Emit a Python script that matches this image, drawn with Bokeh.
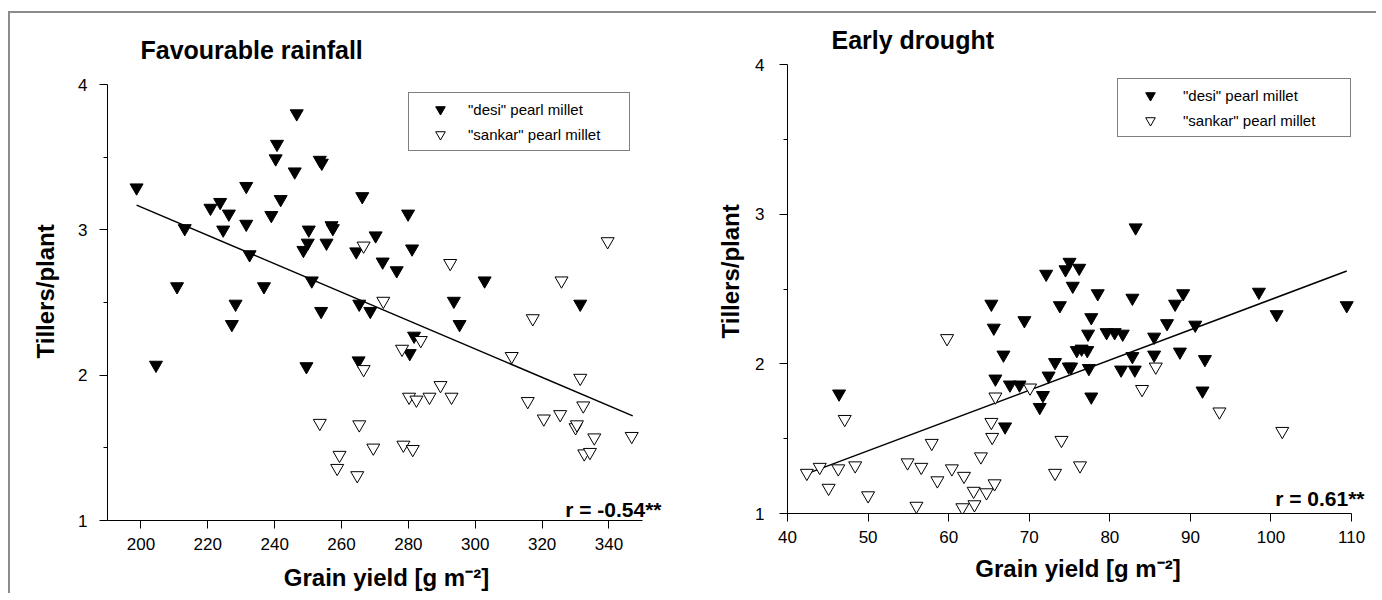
from bokeh.plotting import figure
from bokeh.models import Range1d, FixedTicker, Legend, LegendItem, Label, Title
from bokeh.layouts import row
from bokeh.embed import file_html
from bokeh.resources import INLINE

# ---------------- data: Favourable rainfall ----------------
fav_desi_x = [198.7, 204.5, 210.8, 213.1, 220.8, 223.7, 224.6, 226.3, 227.2, 228.3,
              231.5, 231.5, 232.5, 236.8, 239.0, 240.3, 240.7, 241.8, 246.0, 246.6,
              248.6, 249.9, 250.2, 249.5, 251.1, 253.5, 254.1, 253.9, 255.5, 257.0,
              257.4, 264.4, 265.3, 265.1, 266.2, 268.6, 270.2, 272.3, 276.5, 279.9,
              280.4, 281.1, 281.7, 293.6, 295.3, 302.8, 331.4]
fav_desi_y = [3.29, 2.07, 2.61, 3.01, 3.15, 3.19, 3.00, 3.11, 2.35, 2.49,
              3.30, 3.04, 2.83, 2.61, 3.10, 3.49, 3.59, 3.21, 3.40, 3.80,
              2.86, 2.91, 3.00, 2.06, 2.65, 3.48, 3.46, 2.44, 2.91, 3.03,
              3.01, 2.85, 2.49, 2.10, 3.23, 2.44, 2.96, 2.78, 2.72, 3.11,
              2.15, 2.87, 2.27, 2.51, 2.35, 2.65, 2.49]
fav_sankar_x = [253.5, 258.7, 259.4, 264.7, 265.3, 266.6, 266.6, 269.5, 272.5, 278.1,
                278.5, 280.2, 281.3, 282.4, 283.7, 286.3, 289.6, 292.5, 292.9, 310.9,
                315.7, 317.2, 320.5, 325.4, 325.8, 330.0, 330.4, 331.4, 332.3, 332.6,
                334.3, 335.6, 339.6, 346.8]
fav_sankar_y = [1.67, 1.36, 1.45, 1.31, 1.66, 2.89, 2.04, 1.50, 2.51, 2.18,
                1.52, 1.85, 1.49, 1.83, 2.24, 1.85, 1.93, 2.77, 1.85, 2.13,
                1.82, 2.39, 1.70, 1.73, 2.65, 1.64, 1.66, 1.98, 1.79, 1.46,
                1.47, 1.57, 2.92, 1.58]
fav_fit_x = [198.7, 347.1]
fav_fit_y = [3.17, 1.72]
fav_r = "r = -0.54**"
fav_xticks = [200, 220, 240, 260, 280, 300, 320, 340]
fav_xaxis = (190, 350)

# ---------------- data: Early drought ----------------
dr_desi_x = [46.4, 65.3, 65.6, 65.8, 66.8, 67.0, 67.6, 68.8, 69.4, 72.1,
             71.7, 71.3, 72.4, 73.2, 73.8, 74.5, 75.0, 75.4, 76.2, 74.9,
             75.2, 75.9, 76.5, 77.2, 77.4, 77.7, 77.7, 77.3, 78.5, 79.6,
             80.6, 81.6, 81.4, 82.8, 82.8, 83.1, 83.2, 85.5, 85.5, 87.1,
             88.1, 89.1, 88.7, 90.6, 91.8, 91.5, 98.5, 100.7, 109.4]
dr_desi_y = [1.80, 2.40, 2.24, 1.90, 2.06, 1.58, 1.86, 1.86, 2.29, 2.60,
             1.79, 1.71, 1.92, 2.01, 2.39, 2.63, 2.68, 2.52, 2.64, 1.98,
             1.98, 2.09, 2.10, 2.09, 1.97, 1.78, 2.31, 2.20, 2.47, 2.21,
             2.21, 2.20, 1.96, 2.44, 2.05, 1.96, 2.91, 2.18, 2.06, 2.27,
             2.40, 2.47, 2.08, 2.26, 2.03, 1.82, 2.48, 2.33, 2.39]
dr_sankar_x = [42.4, 44.0, 45.1, 46.3, 47.1, 48.4, 50.0, 54.9, 56.0, 56.6,
               57.9, 58.6, 59.8, 60.4, 61.7, 61.9, 63.1, 63.2, 64.0, 64.7,
               65.3, 65.4, 65.7, 65.8, 70.1, 73.2, 74.0, 76.3, 84.0, 85.7,
               93.6, 101.4]
dr_sankar_y = [1.27, 1.31, 1.17, 1.30, 1.63, 1.32, 1.12, 1.34, 1.05, 1.31,
               1.47, 1.22, 2.17, 1.30, 1.04, 1.25, 1.15, 1.06, 1.38, 1.14,
               1.61, 1.51, 1.20, 1.78, 1.84, 1.27, 1.49, 1.32, 1.83, 1.98,
               1.68, 1.55]
dr_fit_x = [42.6, 109.4]
dr_fit_y = [1.27, 2.62]
dr_r = "r = 0.61**"
dr_xticks = [40, 50, 60, 70, 80, 90, 100, 110]
dr_xaxis = (40, 110)

yticks = [1, 2, 3, 4]
yminor = [1.5, 2.5, 3.5]
legend_labels = ['"desi" pearl millet', '"sankar" pearl millet']
x_label = "Grain yield [g m\u207b\u00b2]"
y_label = "Tillers/plant"

FONT = "Liberation Sans"


def make_panel(title, xaxis_span, x_extra, xticks, dx, dy, sx, sy, fx, fy, rtext, rpos,
               dims, legend_cfg, ylab_cfg):
    (w, h, bl, br, bt, bb, t_off, t_stand, ytick_stand, xtick_stand, xlab_stand) = dims
    p = figure(width=w, height=h,
               x_range=Range1d(xaxis_span[0], xaxis_span[1] + x_extra),
               y_range=Range1d(1, 4),
               output_backend="svg", toolbar_location=None,
               min_border_left=bl, min_border_right=br, min_border_top=bt, min_border_bottom=bb,
               title=title, frame_align=False)
    p.background_fill_color = "white"
    p.border_fill_color = "white"
    p.outline_line_color = None
    p.xgrid.visible = False
    p.ygrid.visible = False

    p.title.text_font = FONT
    p.title.text_font_size = "25px"
    p.title.text_font_style = "bold"
    p.title.text_color = "black"
    p.title.align = "left"
    p.title.offset = t_off
    p.title.standoff = t_stand

    p.xaxis.ticker = FixedTicker(ticks=xticks, minor_ticks=[])
    p.yaxis.ticker = FixedTicker(ticks=yticks, minor_ticks=yminor)
    p.xaxis.bounds = xaxis_span
    for ax in (p.xaxis[0], p.yaxis[0]):
        ax.axis_line_color = "black"
        ax.axis_line_width = 1
        ax.major_tick_out = 8
        ax.major_tick_in = 0
        ax.minor_tick_out = 4
        ax.minor_tick_in = 0
        ax.major_tick_line_color = "black"
        ax.minor_tick_line_color = "black"
        ax.major_label_text_font = FONT
        ax.major_label_text_font_size = "17px"
        ax.major_label_text_color = "black"
        ax.axis_label_text_font = FONT
        ax.axis_label_text_font_size = "24px"
        ax.axis_label_text_font_style = "bold"
        ax.axis_label_text_color = "black"
    p.xaxis.axis_label = x_label
    p.yaxis.major_label_standoff = ytick_stand
    p.xaxis.major_label_standoff = xtick_stand
    p.xaxis.axis_label_standoff = xlab_stand

    # y-axis label as a vertical title in the left panel (so it can be offset)
    yl_off, yl_stand = ylab_cfg
    p.add_layout(Title(text=y_label, align="left", offset=yl_off, standoff=yl_stand,
                       text_font=FONT, text_font_size="24px", text_font_style="bold",
                       text_color="black"), "left")

    p.line(fx, fy, line_color="black", line_width=1.5)
    r1 = p.scatter(dx, dy, marker="inverted_triangle", size=13,
                   fill_color="black", line_color="black", line_width=1)
    r2 = p.scatter(sx, sy, marker="inverted_triangle", size=13,
                   fill_color="white", line_color="black", line_width=1)

    loc, glyph_w, standoff, label_w = legend_cfg
    leg = Legend(items=[LegendItem(label=legend_labels[0], renderers=[r1]),
                        LegendItem(label=legend_labels[1], renderers=[r2])],
                 location=loc, orientation="vertical",
                 padding=4, spacing=1, glyph_height=24, glyph_width=glyph_w,
                 label_height=24, label_width=label_w, label_standoff=standoff,
                 label_text_font=FONT, label_text_font_size="15px",
                 label_text_color="black",
                 border_line_color="black", border_line_width=1,
                 background_fill_color="white", background_fill_alpha=1.0)
    p.add_layout(leg, "center")

    p.add_layout(Label(x=rpos[0], y=rpos[1], text=rtext, text_align="right",
                       text_baseline="alphabetic", text_font=FONT,
                       text_font_size="21px", text_font_style="bold",
                       text_color="black"))
    return p


p1 = make_panel("Favourable rainfall", fav_xaxis, 6.9, fav_xticks,
                fav_desi_x, fav_desi_y, fav_sankar_x, fav_sankar_y,
                fav_fit_x, fav_fit_y, fav_r, (355.7, 1.078),
                (681, 580, 97, 26, 71, 72, 33, 41, 12, 9, 11),
                ((301, 369), 54, 1, 157), (162, 34))
p2 = make_panel("Early drought", dr_xaxis, 2.1, dr_xticks,
                dr_desi_x, dr_desi_y, dr_sankar_x, dr_sankar_y,
                dr_fit_x, dr_fit_y, dr_r, (111.6, 1.10),
                (685, 580, 96, 8, 51, 80, 44, 21, 15, 9, 9),
                ((330, 376), 56, 5, 163), (175, 17))

layout = row(p1, p2, margin=(11, 0, 0, 8),
             styles={"border-top": "2px solid #8c8c8c", "border-left": "2px solid #8c8c8c"})

open("out.html", "w").write(file_html(layout, INLINE))
